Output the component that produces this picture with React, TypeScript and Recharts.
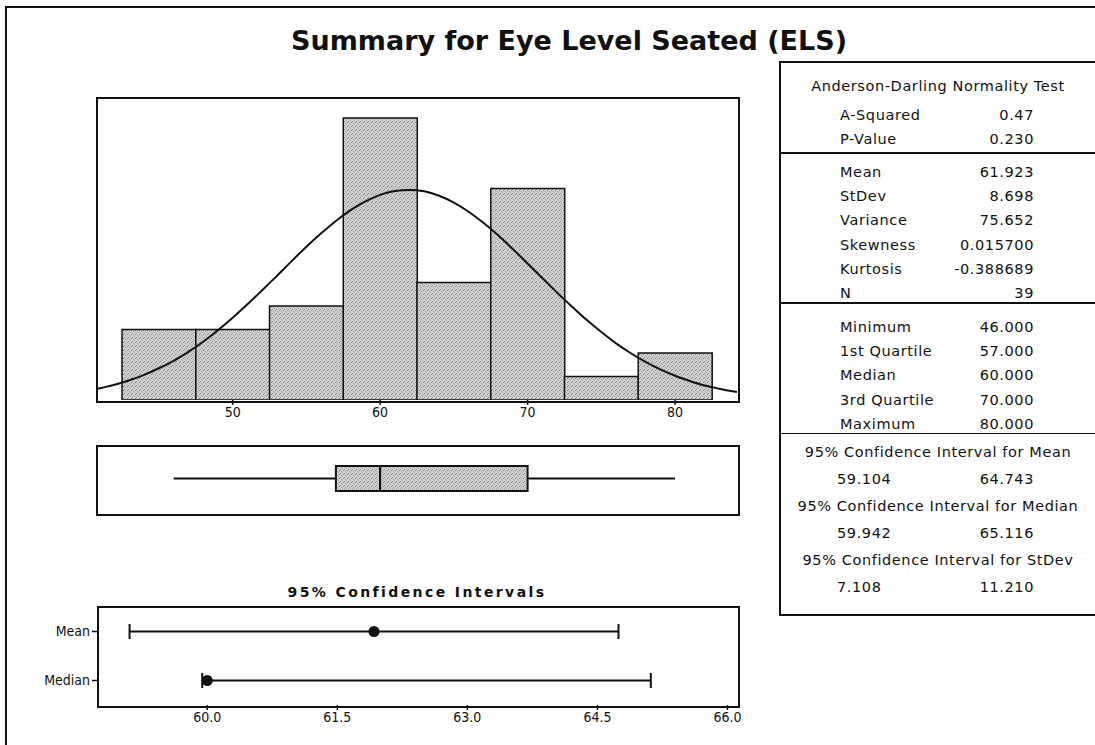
import {
  ComposedChart,
  Bar,
  Line,
  XAxis,
  YAxis,
  ReferenceArea,
  ReferenceLine,
  Scatter,
  ErrorBar,
} from "recharts";

// histogram bins (width 5) and counts
const binMids = [45, 50, 55, 60, 65, 70, 75, 80];
const binCounts = [3, 3, 4, 12, 5, 9, 1, 2];
const histTicks = [50, 60, 70, 80];

// fitted normal curve
const curveX = [
  40.8, 41, 42, 43, 44, 45, 46, 47, 48, 49, 50, 51, 52, 53, 54, 55, 56, 57, 58, 59, 60, 61, 62,
  63, 64, 65, 66, 67, 68, 69, 70, 71, 72, 73, 74, 75, 76, 77, 78, 79, 80, 81, 82, 83, 84, 84.2,
];
const curveY = [
  0.47, 0.5, 0.65, 0.84, 1.07, 1.35, 1.67, 2.05, 2.48, 2.97, 3.5, 4.07, 4.67, 5.28, 5.91, 6.52,
  7.09, 7.62, 8.08, 8.45, 8.73, 8.89, 8.94, 8.88, 8.69, 8.4, 8.01, 7.54, 7.01, 6.42, 5.81, 5.19,
  4.57, 3.98, 3.41, 2.89, 2.41, 1.99, 1.62, 1.3, 1.03, 0.81, 0.62, 0.48, 0.36, 0.34,
];

// min, q1, median, q3, max
const boxStats = [46, 57, 60, 70, 80];

// confidence intervals
const ciNames = ["Mean", "Median"];
const ciEstimates = [61.923, 60.0];
const ciLower = [59.104, 59.942];
const ciUpper = [64.743, 65.116];
const ciTicks = [60, 61.5, 63, 64.5, 66];

// summary table
const adRows = [
  ["A-Squared", "0.47"],
  ["P-Value", "0.230"],
];
const descRows = [
  ["Mean", "61.923"],
  ["StDev", "8.698"],
  ["Variance", "75.652"],
  ["Skewness", "0.015700"],
  ["Kurtosis", "-0.388689"],
  ["N", "39"],
];
const quartRows = [
  ["Minimum", "46.000"],
  ["1st Quartile", "57.000"],
  ["Median", "60.000"],
  ["3rd Quartile", "70.000"],
  ["Maximum", "80.000"],
];
const ciTableRows = [
  ["95% Confidence Interval for Mean", "59.104", "64.743"],
  ["95% Confidence Interval for Median", "59.942", "65.116"],
  ["95% Confidence Interval for StDev", "7.108", "11.210"],
];

const histDomain = [40.8, 84.2];
const narrow = "'Liberation Sans Narrow', 'DejaVu Sans Condensed', 'Arial Narrow', sans-serif";
const tableFont = "'DejaVu Sans', Verdana, sans-serif";
const ink = "#111";

const histData = binMids.map((x, i) => ({ mid: x, count: binCounts[i] }));
const curveData = curveX.map((x, i) => ({ x, y: curveY[i] }));
const ciData = ciNames.map((name, i) => ({
  name,
  est: ciEstimates[i],
  err: [ciEstimates[i] - ciLower[i], ciUpper[i] - ciEstimates[i]],
}));

const Speckle = ({ id }: { id: string }) => (
  <defs>
    <pattern id={id} width={4} height={4} patternUnits="userSpaceOnUse">
      <rect width={4} height={4} fill="#d2d2d2" />
      <rect x={0} y={0} width={1} height={1} fill="#7c7c7c" />
      <rect x={2} y={1} width={1} height={1} fill="#9a9a9a" />
      <rect x={1} y={3} width={1} height={1} fill="#8a8a8a" />
      <rect x={3} y={2} width={1} height={1} fill="#a6a6a6" />
    </pattern>
  </defs>
);

const Frame = ({ x, y, w, h }: { x: number; y: number; w: number; h: number }) => (
  <div
    style={{
      position: "absolute",
      left: x - 1,
      top: y - 1,
      width: w,
      height: h,
      border: `2px solid ${ink}`,
      pointerEvents: "none",
    }}
  />
);

const TextAt = ({
  x,
  y,
  w,
  align,
  children,
}: {
  x: number;
  y: number;
  w: number;
  align: "left" | "right" | "center";
  children: React.ReactNode;
}) => (
  <div
    style={{
      position: "absolute",
      left: x,
      top: y - 10,
      width: w,
      height: 20,
      lineHeight: "20px",
      textAlign: align,
      whiteSpace: "nowrap",
    }}
  >
    {children}
  </div>
);

// pixel padding so the bin bands line up with the numeric axis
const plotW = 640;
const pxPerUnit = plotW / (histDomain[1] - histDomain[0]);
const binHalf = (binMids[1] - binMids[0]) / 2;
const padLeft = (binMids[0] - binHalf - histDomain[0]) * pxPerUnit;
const padRight = (histDomain[1] - binMids[binMids.length - 1] - binHalf) * pxPerUnit;

const Histogram = () => (
  <div style={{ position: "absolute", left: 87, top: 90 }}>
    <ComposedChart
      width={660}
      height={340}
      data={histData}
      barCategoryGap={0}
      barGap={0}
      margin={{ top: 8, right: 10, bottom: 0, left: 10 }}
    >
      <Speckle id="speckHist" />
      <XAxis
        xAxisId="bins"
        type="category"
        dataKey="mid"
        orientation="top"
        hide
        padding={{ left: padLeft, right: padRight }}
      />
      <XAxis
        xAxisId="num"
        type="number"
        dataKey="x"
        domain={histDomain}
        ticks={histTicks}
        allowDataOverflow
        axisLine={false}
        tickLine={{ stroke: ink, strokeWidth: 1.5 }}
        tickSize={5}
        tick={{ fill: ink, fontSize: 14, fontFamily: narrow }}
      />
      <YAxis hide type="number" domain={[0, 12.85]} allowDataOverflow />
      <Bar
        xAxisId="bins"
        dataKey="count"
        fill="url(#speckHist)"
        stroke={ink}
        strokeWidth={1.5}
        isAnimationActive={false}
      />
      <Line
        xAxisId="num"
        data={curveData}
        dataKey="y"
        type="monotone"
        stroke={ink}
        strokeWidth={2}
        dot={false}
        isAnimationActive={false}
      />
    </ComposedChart>
  </div>
);

const BoxPlot = () => (
  <div style={{ position: "absolute", left: 87, top: 438 }}>
    <ComposedChart
      width={660}
      height={83}
      data={[{ x: boxStats[0] }, { x: boxStats[4] }]}
      margin={{ top: 8, right: 10, bottom: 8, left: 10 }}
    >
      <Speckle id="speckBox" />
      <XAxis hide type="number" dataKey="x" domain={histDomain} allowDataOverflow />
      <YAxis hide type="number" domain={[0, 1]} allowDataOverflow />
      <ReferenceLine
        segment={[
          { x: boxStats[0], y: 0.515 },
          { x: boxStats[1], y: 0.515 },
        ]}
        stroke={ink}
        strokeWidth={2}
      />
      <ReferenceLine
        segment={[
          { x: boxStats[3], y: 0.515 },
          { x: boxStats[4], y: 0.515 },
        ]}
        stroke={ink}
        strokeWidth={2}
      />
      <ReferenceArea
        x1={boxStats[1]}
        x2={boxStats[2]}
        y1={0.33}
        y2={0.7}
        fill="url(#speckBox)"
        fillOpacity={1}
        stroke={ink}
        strokeWidth={2}
        strokeOpacity={1}
      />
      <ReferenceArea
        x1={boxStats[2]}
        x2={boxStats[3]}
        y1={0.33}
        y2={0.7}
        fill="url(#speckBox)"
        fillOpacity={1}
        stroke={ink}
        strokeWidth={2}
        strokeOpacity={1}
      />
    </ComposedChart>
  </div>
);

const CiPlot = () => (
  <div style={{ position: "absolute", left: 28, top: 599 }}>
    <ComposedChart
      layout="vertical"
      width={719}
      height={136}
      data={ciData}
      margin={{ top: 8, right: 10, bottom: 0, left: 10 }}
    >
      <XAxis
        type="number"
        dataKey="est"
        domain={[58.74, 66.11]}
        ticks={ciTicks}
        allowDataOverflow
        tickFormatter={(v: number) => v.toFixed(1)}
        axisLine={false}
        tickLine={{ stroke: ink, strokeWidth: 1.5 }}
        tickSize={5}
        tick={{ fill: ink, fontSize: 14, fontFamily: narrow }}
      />
      <YAxis
        type="category"
        dataKey="name"
        width={60}
        padding={{ top: 24.5, bottom: 24.5 }}
        axisLine={false}
        tickLine={{ stroke: ink, strokeWidth: 1.5 }}
        tickSize={6}
        tick={{ fill: ink, fontSize: 14, fontFamily: narrow }}
      />
      <Scatter
        dataKey="est"
        isAnimationActive={false}
        shape={(p: any) => <circle cx={p.cx} cy={p.cy} r={5.5} fill={ink} />}
      >
        <ErrorBar dataKey="err" direction="x" width={7.5} stroke={ink} strokeWidth={2} />
      </Scatter>
    </ComposedChart>
  </div>
);

const SummaryTable = () => {
  const labelX = 840;
  const valueRight = 1034;
  const rowH = 24.2;
  const rows: React.ReactNode[] = [];
  const pair = (label: string, value: string, y: number, key: string) => {
    rows.push(
      <TextAt key={key + "l"} x={labelX} y={y} w={140} align="left">
        {label}
      </TextAt>
    );
    rows.push(
      <TextAt key={key + "v"} x={valueRight - 120} y={y} w={120} align="right">
        {value}
      </TextAt>
    );
  };
  adRows.forEach((r, i) => pair(r[0], r[1], 115 + i * rowH, "ad" + i));
  descRows.forEach((r, i) => pair(r[0], r[1], 172 + i * rowH, "d" + i));
  quartRows.forEach((r, i) => pair(r[0], r[1], 327 + i * rowH, "q" + i));
  ciTableRows.forEach((r, i) => {
    const y = 452 + i * 54;
    rows.push(
      <TextAt key={"ch" + i} x={781} y={y} w={314} align="center">
        {r[0]}
      </TextAt>
    );
    rows.push(
      <TextAt key={"cl" + i} x={837} y={y + 27} w={100} align="left">
        {r[1]}
      </TextAt>
    );
    rows.push(
      <TextAt key={"cu" + i} x={valueRight - 120} y={y + 27} w={120} align="right">
        {r[2]}
      </TextAt>
    );
  });
  const sep = (y: number, t: number) => (
    <div
      key={"s" + y}
      style={{ position: "absolute", left: 779, top: y, width: 330, height: t, background: ink }}
    />
  );
  return (
    <div style={{ fontFamily: tableFont, fontSize: 14.5, letterSpacing: 0.6, color: ink }}>
      <div
        style={{
          position: "absolute",
          left: 779,
          top: 61,
          width: 340,
          height: 551,
          borderLeft: `2px solid ${ink}`,
          borderTop: `2px solid ${ink}`,
          borderBottom: `2px solid ${ink}`,
        }}
      />
      <TextAt x={781} y={86} w={314} align="center">
        Anderson-Darling Normality Test
      </TextAt>
      {sep(152, 2)}
      {sep(302, 2)}
      {sep(433, 1)}
      {rows}
    </div>
  );
};

export default function App() {
  return (
    <div
      style={{
        position: "absolute",
        left: 0,
        top: 0,
        width: 1095,
        height: 745,
        overflow: "hidden",
        background: "#fff",
        color: ink,
      }}
    >
      <div
        style={{
          position: "absolute",
          left: 5,
          top: 6,
          width: 2000,
          height: 2000,
          borderLeft: `2px solid ${ink}`,
          borderTop: `2px solid ${ink}`,
        }}
      />
      <div
        style={{
          position: "absolute",
          left: 269,
          top: 24,
          width: 600,
          lineHeight: "34px",
          textAlign: "center",
          fontFamily: tableFont,
          fontWeight: "bold",
          fontSize: 27,
          whiteSpace: "nowrap",
        }}
      >
        Summary for Eye Level Seated (ELS)
      </div>
      <Histogram />
      <Frame x={97} y={98} w={640} h={302} />
      <BoxPlot />
      <Frame x={97} y={446} w={640} h={67} />
      <div
        style={{
          position: "absolute",
          left: 117,
          top: 580,
          width: 600,
          lineHeight: "24px",
          textAlign: "center",
          fontFamily: tableFont,
          fontWeight: "bold",
          fontSize: 14,
          letterSpacing: 2.4,
        }}
      >
        95% Confidence Intervals
      </div>
      <CiPlot />
      <Frame x={98} y={607} w={639} h={98} />
      <SummaryTable />
    </div>
  );
}
